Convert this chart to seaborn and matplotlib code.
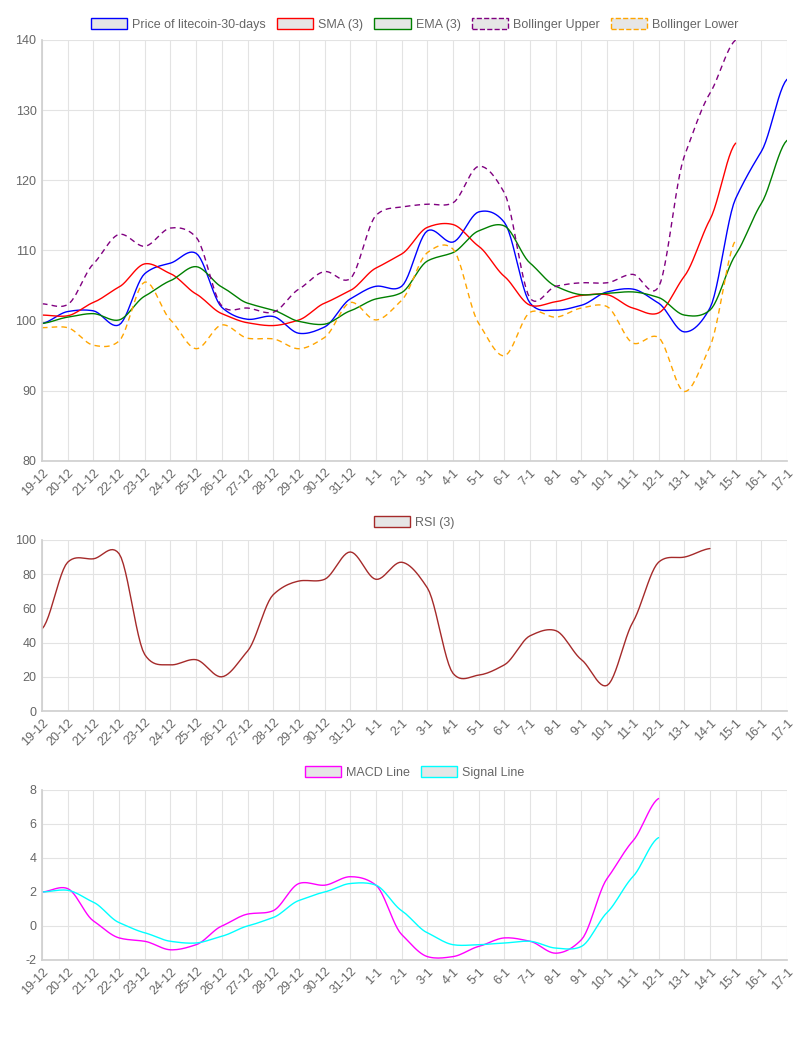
import numpy as np
import matplotlib
matplotlib.use("Agg")
import matplotlib.pyplot as plt
from matplotlib.patches import Patch
import seaborn as sns

sns.set_theme(style="white", font="Liberation Sans")
plt.rcParams["axes.unicode_minus"] = False

dates = ["19-12", "20-12", "21-12", "22-12", "23-12", "24-12", "25-12", "26-12", "27-12", "28-12",
         "29-12", "30-12", "31-12", "1-1", "2-1", "3-1", "4-1", "5-1", "6-1", "7-1",
         "8-1", "9-1", "10-1", "11-1", "12-1", "13-1", "14-1", "15-1", "16-1", "17-1"]

price = [99.6, 101.3, 101.4, 99.4, 106.7, 108.2, 109.6, 101.9, 100.2, 100.6,
         98.2, 99.1, 103.1, 104.9, 104.9, 112.8, 111.2, 115.5, 114.0, 102.5,
         101.5, 102.2, 104.1, 104.5, 102.5, 98.4, 101.8, 117.4, 124.1, 134.4]
sma = [100.8, 100.7, 102.6, 104.8, 108.1, 106.7, 103.8, 101.0, 99.7, 99.3,
       100.1, 102.5, 104.3, 107.5, 109.5, 113.3, 113.7, 110.6, 106.3, 102.2,
       102.7, 103.6, 103.7, 101.8, 101.1, 106.3, 114.4, 125.3]
ema = [99.6, 100.5, 101.0, 100.1, 103.5, 105.7, 107.7, 104.8, 102.5, 101.5,
       99.9, 99.5, 101.4, 103.1, 104.0, 108.5, 109.7, 112.8, 113.5, 108.2,
       104.9, 103.7, 103.9, 104.1, 103.3, 100.8, 101.5, 109.4, 116.7, 125.7]
boll_upper = [102.4, 102.3, 108.1, 112.3, 110.6, 113.2, 111.9, 102.1, 101.8, 101.2,
              104.5, 107.0, 106.0, 115.0, 116.2, 116.6, 116.8, 122.0, 118.2, 103.2,
              104.9, 105.4, 105.4, 106.6, 104.8, 123.4, 132.4, 140.0]
boll_lower = [99.0, 99.0, 96.5, 97.1, 105.5, 100.1, 96.0, 99.4, 97.5, 97.4,
              96.0, 97.6, 102.6, 100.1, 102.9, 109.7, 110.2, 99.6, 95.0, 101.2,
              100.5, 101.8, 102.0, 96.8, 97.6, 89.9, 96.3, 111.5]

rsi = [48, 87, 89, 92, 33, 27, 30, 20, 35, 68, 76, 77, 93, 77, 87, 72, 22, 21, 27, 44,
       47, 30, 15, 52, 87, 90, 95]

macd = [2.0, 2.2, 0.3, -0.7, -0.9, -1.4, -1.1, 0.0, 0.7, 0.9, 2.5, 2.4, 2.9, 2.4,
        -0.5, -1.8, -1.8, -1.2, -0.7, -0.9, -1.6, -0.8, 2.8, 5.0, 7.5]
signal = [2.0, 2.1, 1.4, 0.2, -0.4, -0.9, -1.0, -0.6, 0.0, 0.5, 1.5, 2.0, 2.5, 2.4,
          0.9, -0.4, -1.1, -1.1, -1.0, -0.9, -1.3, -1.2, 0.8, 2.9, 5.2]


def smooth(vals, n=12):
    # cardinal spline like chart.js tension 0.4
    y = np.asarray(vals, float)
    x = np.arange(len(y), dtype=float)
    if len(y) < 3:
        return x, y
    t = 0.35
    xs, ys = [], []
    for i in range(len(y) - 1):
        p0 = y[i - 1] if i > 0 else y[i]
        p3 = y[i + 2] if i + 2 < len(y) else y[i + 1]
        m1 = t * (y[i + 1] - p0)
        m2 = t * (p3 - y[i])
        s = np.linspace(0, 1, n, endpoint=False)
        h00 = 2 * s**3 - 3 * s**2 + 1
        h10 = s**3 - 2 * s**2 + s
        h01 = -2 * s**3 + 3 * s**2
        h11 = s**3 - s**2
        xs.append(x[i] + s)
        ys.append(h00 * y[i] + h10 * m1 + h01 * y[i + 1] + h11 * m2)
    xs.append([x[-1]])
    ys.append([y[-1]])
    return np.concatenate(xs), np.concatenate(ys)


def style_axis(ax, ymin, ymax, step):
    ax.set_xlim(0, len(dates) - 1)
    ax.set_ylim(ymin, ymax)
    ax.set_yticks(np.arange(ymin, ymax + 0.01, step))
    ax.set_xticks(range(len(dates)))
    ax.set_xticklabels(dates, rotation=45, ha="right", rotation_mode="anchor")
    ax.tick_params(colors="#666666", labelsize=9, length=0, pad=4)
    ax.grid(True, color="#e3e3e3", linewidth=0.8)
    for sp in ["top", "right"]:
        ax.spines[sp].set_visible(False)
    for sp in ["left", "bottom"]:
        ax.spines[sp].set_color("#d0d0d0")


def draw(ax, vals, color, ls="-"):
    xs, ys = smooth(vals)
    sns.lineplot(x=xs, y=ys, ax=ax, color=color, linewidth=1.0, linestyle=ls,
                 sort=False, estimator=None)


def legend(ax, items, y):
    handles = [Patch(facecolor="#e6e6e6", edgecolor=c, linestyle=ls, linewidth=1, label=l)
               for l, c, ls in items]
    ax.legend(handles=handles, loc="lower center", bbox_to_anchor=(0.5, y), ncol=len(items),
              frameon=False, fontsize=9, handlelength=2.9, handleheight=1.0,
              handletextpad=0.4, columnspacing=0.9, labelcolor="#666666")


fig = plt.figure(figsize=(8.1, 10.6), dpi=100)
W, H = 810, 1060
L, R = 42, 787


def add_axes(top, bottom):
    return fig.add_axes([L / W, 1 - bottom / H, (R - L) / W, (bottom - top) / H])


ax1 = add_axes(40, 461)
draw(ax1, price, "blue")
draw(ax1, sma, "red")
draw(ax1, ema, "green")
draw(ax1, boll_upper, "purple", (0, (4, 3)))
draw(ax1, boll_lower, "orange", (0, (4, 3)))
style_axis(ax1, 80, 140, 10)
legend(ax1, [("Price of litecoin-30-days", "blue", "-"), ("SMA (3)", "red", "-"),
             ("EMA (3)", "green", "-"), ("Bollinger Upper", "purple", "--"),
             ("Bollinger Lower", "orange", "--")], 0.995)

ax2 = add_axes(540, 711)
draw(ax2, rsi, "brown")
style_axis(ax2, 0, 100, 20)
legend(ax2, [("RSI (3)", "brown", "-")], 1.0)

ax3 = add_axes(790, 960)
draw(ax3, macd, "magenta")
draw(ax3, signal, "cyan")
style_axis(ax3, -2, 8, 2)
legend(ax3, [("MACD Line", "magenta", "-"), ("Signal Line", "cyan", "-")], 1.0)

fig.savefig("out.png", dpi=100)
